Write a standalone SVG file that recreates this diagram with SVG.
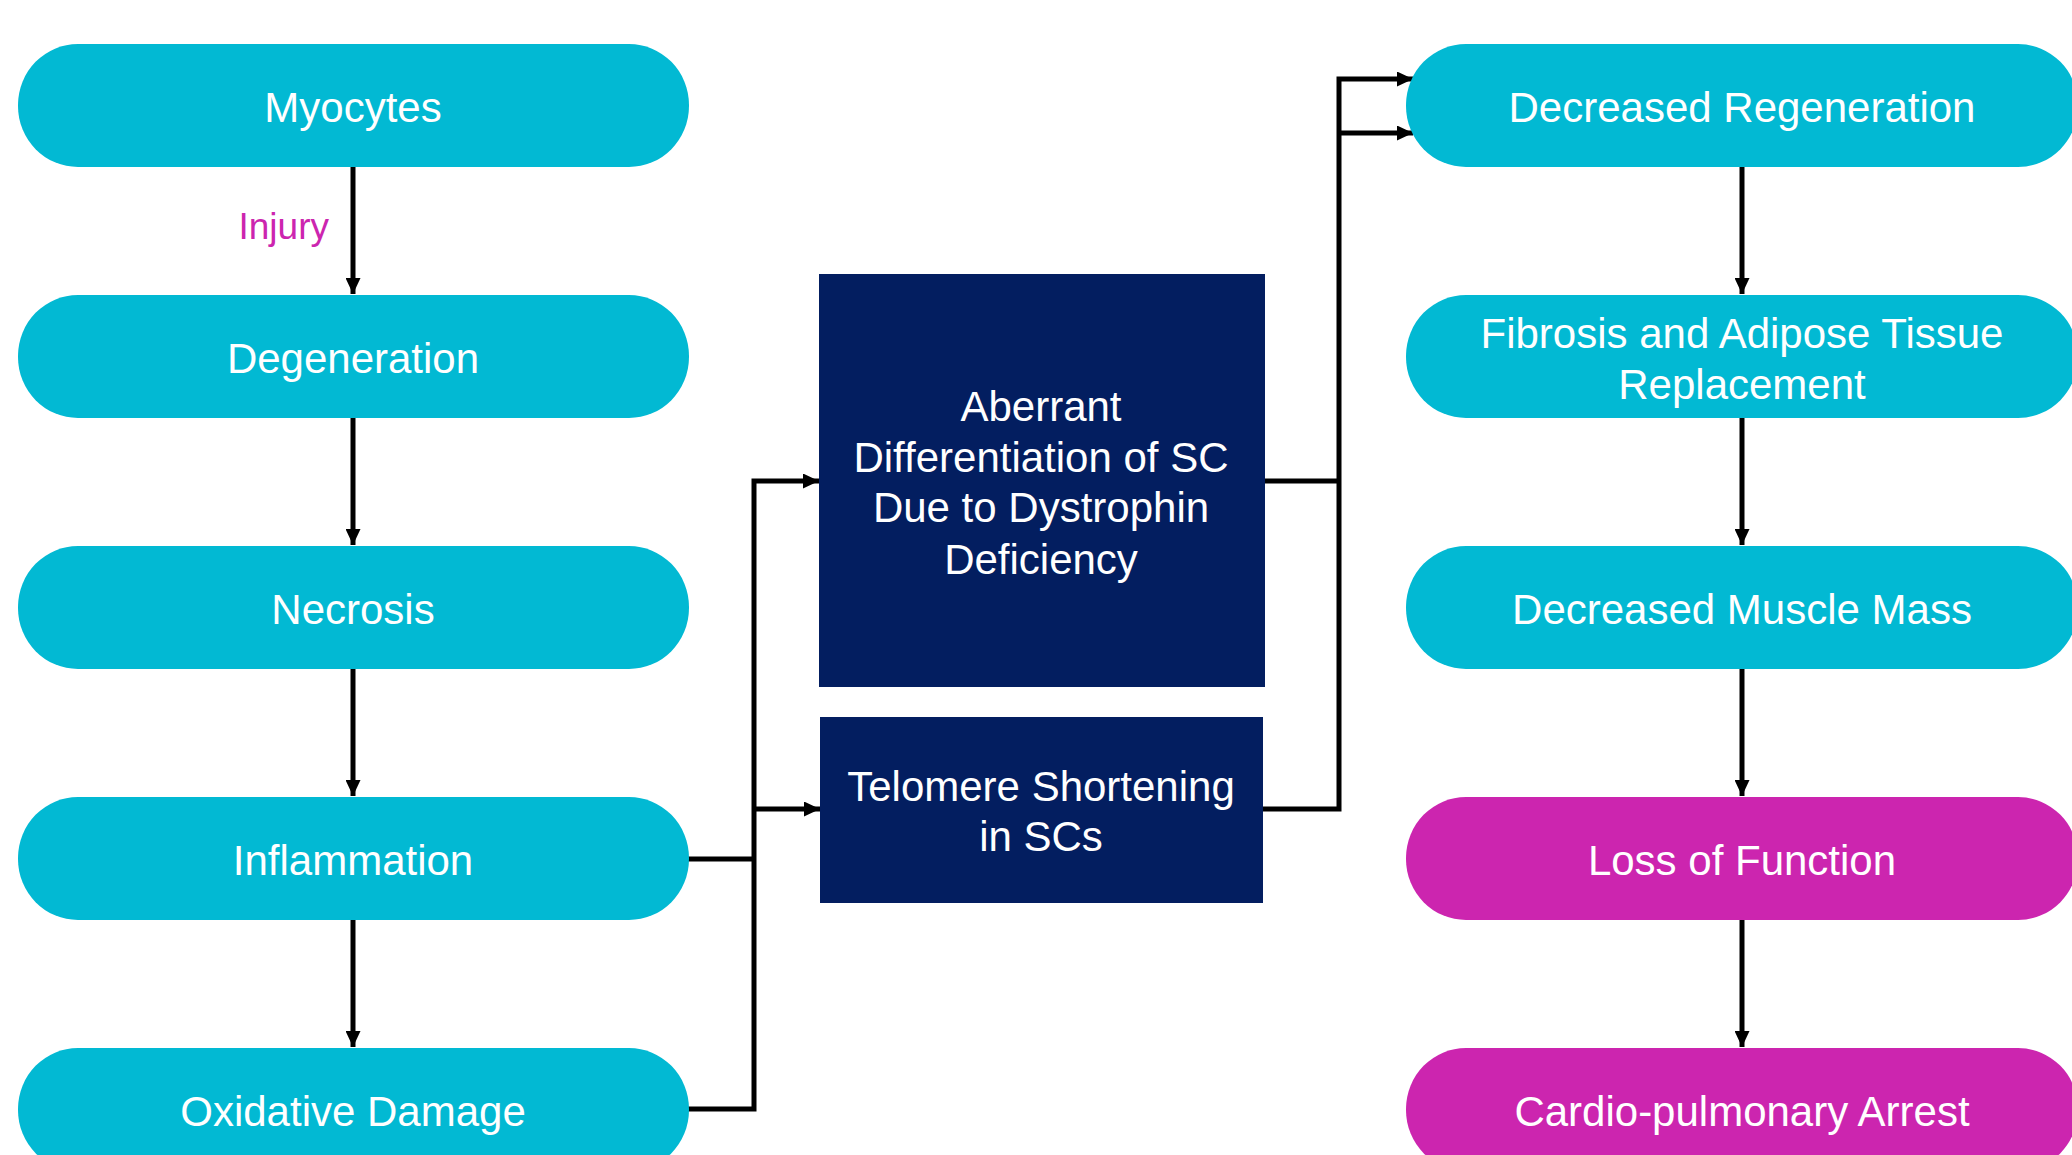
<svg xmlns="http://www.w3.org/2000/svg" width="2072" height="1155" viewBox="0 0 2072 1155">
<style>
.pill{fill:#02B9D3}
.pm{fill:#CC25AF}
.box{fill:#031E60}
.t{font-family:"Liberation Sans",Arial,sans-serif;font-size:42px;fill:#FFFFFF;text-anchor:middle}
.lbl{font-family:"Liberation Sans",Arial,sans-serif;font-size:37px;fill:#CC25AF;text-anchor:end}
.c{fill:none;stroke:#000;stroke-width:5}
</style>
<defs>
<marker id="ah" markerUnits="userSpaceOnUse" markerWidth="16" markerHeight="15" refX="16" refY="7.5" orient="auto">
<path d="M0,0 L16,7.5 L0,15 z" fill="#000"/>
</marker>
</defs>
<rect width="2072" height="1155" fill="#FFFFFF"/>
<g id="connectors">
<line class="c" x1="353" y1="167" x2="353" y2="294" marker-end="url(#ah)"/>
<line class="c" x1="353" y1="418" x2="353" y2="545" marker-end="url(#ah)"/>
<line class="c" x1="353" y1="669" x2="353" y2="796" marker-end="url(#ah)"/>
<line class="c" x1="353" y1="920" x2="353" y2="1047" marker-end="url(#ah)"/>
<polyline class="c" points="688,859 754,859"/>
<polyline class="c" points="688,1109 754,1109 754,481 819,481" marker-end="url(#ah)"/>
<polyline class="c" points="754,809 820,809" marker-end="url(#ah)"/>
<polyline class="c" points="1265,481 1339,481"/>
<polyline class="c" points="1263,809 1339,809 1339,79 1413,79" marker-end="url(#ah)"/>
<polyline class="c" points="1339,133 1413,133" marker-end="url(#ah)"/>
<line class="c" x1="1742" y1="167" x2="1742" y2="294" marker-end="url(#ah)"/>
<line class="c" x1="1742" y1="418" x2="1742" y2="545" marker-end="url(#ah)"/>
<line class="c" x1="1742" y1="669" x2="1742" y2="796" marker-end="url(#ah)"/>
<line class="c" x1="1742" y1="920" x2="1742" y2="1047" marker-end="url(#ah)"/>
<text class="lbl" x="329" y="239">Injury</text>
</g>
<g id="myocytes"><rect class="pill" x="18" y="44" width="671" height="123" rx="60" ry="61"/><text class="t" x="353" y="122">Myocytes</text></g>
<g id="degeneration"><rect class="pill" x="18" y="295" width="671" height="123" rx="60" ry="61"/><text class="t" x="353" y="373">Degeneration</text></g>
<g id="necrosis"><rect class="pill" x="18" y="546" width="671" height="123" rx="60" ry="61"/><text class="t" x="353" y="624">Necrosis</text></g>
<g id="inflammation"><rect class="pill" x="18" y="797" width="671" height="123" rx="60" ry="61"/><text class="t" x="353" y="875">Inflammation</text></g>
<g id="oxidative"><rect class="pill" x="18" y="1048" width="671" height="123" rx="60" ry="61"/><text class="t" x="353" y="1126">Oxidative Damage</text></g>
<g id="aberrant"><rect class="box" x="819" y="274" width="446" height="413"/>
<text class="t" x="1041" y="421">Aberrant</text>
<text class="t" x="1041" y="472">Differentiation of SC</text>
<text class="t" x="1041" y="522">Due to Dystrophin</text>
<text class="t" x="1041" y="574">Deficiency</text></g>
<g id="telomere"><rect class="box" x="820" y="717" width="443" height="186"/>
<text class="t" x="1041" y="801">Telomere Shortening</text>
<text class="t" x="1041" y="851">in SCs</text></g>
<g id="decreg"><rect class="pill" x="1406" y="44" width="672" height="123" rx="60" ry="61"/><text class="t" x="1742" y="122">Decreased Regeneration</text></g>
<g id="fibrosis"><rect class="pill" x="1406" y="295" width="672" height="123" rx="60" ry="61"/><text class="t" x="1742" y="348">Fibrosis and Adipose Tissue</text><text class="t" x="1742" y="399">Replacement</text></g>
<g id="decmass"><rect class="pill" x="1406" y="546" width="672" height="123" rx="60" ry="61"/><text class="t" x="1742" y="624">Decreased Muscle Mass</text></g>
<g id="loss"><rect class="pm" x="1406" y="797" width="672" height="123" rx="60" ry="61"/><text class="t" x="1742" y="875">Loss of Function</text></g>
<g id="cardio"><rect class="pm" x="1406" y="1048" width="672" height="123" rx="60" ry="61"/><text class="t" x="1742" y="1126">Cardio-pulmonary Arrest</text></g>
</svg>
